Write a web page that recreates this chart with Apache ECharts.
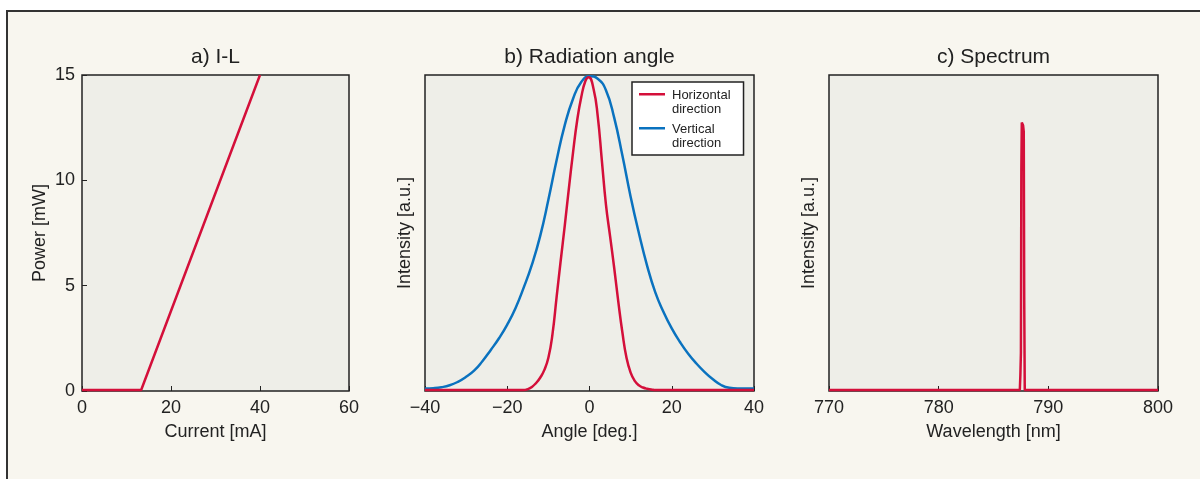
<!DOCTYPE html>
<html>
<head>
<meta charset="utf-8">
<script src="https://cdn.jsdelivr.net/npm/echarts@6/dist/echarts.min.js"></script>
<style>
html,body{margin:0;padding:0;background:#ffffff;}
#c{width:1200px;height:479px;}
</style>
</head>
<body>
<div id="c"></div>
<script>
// ---- data ----
const ilCurrent = [0, 13.3, 40];
const ilPower = [0.05, 0.05, 15];

const hAngle = [-40, -20, -16, -15, -14, -13, -12, -11, -10, -9, -8, -7, -6, -5, -4, -3, -2, -1, -0.2, 1, 2, 3, 4, 5, 6, 7, 8, 9, 10, 11, 12, 13, 14, 15, 16, 20, 40];
const hInt = [0.003, 0.003, 0.003, 0.006, 0.013, 0.025, 0.042, 0.066, 0.105, 0.18, 0.297, 0.413, 0.525, 0.643, 0.755, 0.856, 0.93, 0.981, 0.993, 0.955, 0.87, 0.73, 0.59, 0.49, 0.39, 0.283, 0.185, 0.105, 0.058, 0.032, 0.018, 0.011, 0.007, 0.005, 0.003, 0.003, 0.003];

const vAngle = [-40, -38, -36, -34, -32, -30, -28, -26, -24, -22, -20, -18, -16, -14, -12, -10, -8, -6, -4, -2, 0, 2, 4, 6, 8, 10, 12, 14, 16, 18, 20, 22, 24, 26, 28, 30, 32, 34, 36, 38, 40];
const vInt = [0.008, 0.009, 0.012, 0.018, 0.029, 0.045, 0.065, 0.095, 0.13, 0.167, 0.21, 0.262, 0.327, 0.4, 0.49, 0.605, 0.73, 0.842, 0.925, 0.978, 0.996, 0.988, 0.952, 0.865, 0.745, 0.615, 0.5, 0.397, 0.312, 0.25, 0.198, 0.155, 0.118, 0.087, 0.06, 0.037, 0.019, 0.01, 0.008, 0.008, 0.008];

const specWl = [770, 787.4, 787.45, 787.5, 787.54, 787.58, 787.62, 787.7, 787.76, 787.8, 787.85, 800];
const specInt = [0.003, 0.003, 0.05, 0.12, 0.7, 0.85, 0.85, 0.84, 0.82, 0.3, 0.003, 0.003];

const titles = ['a) I-L', 'b) Radiation angle', 'c) Spectrum'];
const xNames = ['Current [mA]', 'Angle [deg.]', 'Wavelength [nm]'];
const yNames = ['Power [mW]', 'Intensity [a.u.]', 'Intensity [a.u.]'];
const legendNames = ['Horizontal\ndirection', 'Vertical\ndirection'];

// ---- chart ----
const FONT = '"Liberation Sans", Arial, sans-serif';
const TXT = '#222222';
const RED = '#d40f3a';
const BLUE = '#0a72bf';
const zip = (a, b) => a.map((v, i) => [v, b[i]]);

const grids = [
  {left: 82, top: 75, width: 267, height: 316},
  {left: 425, top: 75, width: 329, height: 316},
  {left: 829, top: 75, width: 329, height: 316}
].map(g => Object.assign(g, {show: true, backgroundColor: '#eeeee8', borderColor: '#222', borderWidth: 1.5}));

const centers = [82 + 267 / 2, 425 + 329 / 2, 829 + 329 / 2];

const xRanges = [[0, 60, 20], [-40, 40, 20], [770, 800, 10]];
const xAxes = xRanges.map((r, i) => ({
  type: 'value', gridIndex: i, min: r[0], max: r[1], interval: r[2],
  name: xNames[i], nameLocation: 'middle', nameGap: 32,
  nameTextStyle: {fontFamily: FONT, fontSize: 18, color: TXT},
  axisLine: {show: false},
  axisTick: {show: true, inside: true, length: 5, lineStyle: {color: '#222', width: 1}},
  axisLabel: {fontFamily: FONT, fontSize: 18, color: TXT, margin: 8,
    formatter: v => String(v).replace('-', '\u2212')},
  splitLine: {show: false}
}));

const yAxes = [
  {type: 'value', gridIndex: 0, min: 0, max: 15, interval: 5,
   name: yNames[0], nameLocation: 'middle', nameGap: 33,
   axisLabel: {fontFamily: FONT, fontSize: 18, color: TXT, margin: 7},
   axisTick: {show: true, inside: true, length: 5, lineStyle: {color: '#222', width: 1}}},
  {type: 'value', gridIndex: 1, min: 0, max: 1, name: yNames[1], nameLocation: 'middle', nameGap: 11,
   axisLabel: {show: false}, axisTick: {show: false}},
  {type: 'value', gridIndex: 2, min: 0, max: 1, name: yNames[2], nameLocation: 'middle', nameGap: 11,
   axisLabel: {show: false}, axisTick: {show: false}}
].map(a => Object.assign(a, {
  nameTextStyle: {fontFamily: FONT, fontSize: 18, color: TXT},
  axisLine: {show: false}, splitLine: {show: false}
}));

const lineBase = {type: 'line', showSymbol: false, symbol: 'none', animation: false, silent: true};
const LEG_ICON = 'path://M0,4.5L26,4.5L26,7L0,7Z M0,0L0.01,0L0.01,28L0,28Z';

const option = {
  backgroundColor: '#ffffff',
  animation: false,
  graphic: [{
    type: 'rect', z: -10, silent: true,
    shape: {x: 7, y: 11, width: 1400, height: 700},
    style: {fill: '#f8f6ef', stroke: '#333', lineWidth: 2}
  }],
  title: titles.map((t, i) => ({
    text: t, left: centers[i], top: 47, textAlign: 'center', padding: 0,
    textStyle: {fontFamily: FONT, fontSize: 21, fontWeight: 'normal', color: TXT}
  })),
  legend: {
    data: legendNames.map(n => ({name: n, icon: LEG_ICON})),
    orient: 'vertical', left: 632, top: 82,
    backgroundColor: '#ffffff', borderColor: '#222', borderWidth: 1.5,
    padding: [5, 13, 3, 7], itemGap: 3, itemWidth: 26, itemHeight: 28,
    symbolKeepAspect: false,
    itemStyle: {borderWidth: 0},
    textStyle: {fontFamily: FONT, fontSize: 13, color: TXT, lineHeight: 14, padding: [3, 0, 0, 2]},
    selectedMode: false
  },
  grid: grids,
  xAxis: xAxes,
  yAxis: yAxes,
  series: [
    Object.assign({}, lineBase, {name: 'il', xAxisIndex: 0, yAxisIndex: 0, data: zip(ilCurrent, ilPower),
      lineStyle: {color: RED, width: 2.5}, itemStyle: {color: RED}}),
    Object.assign({}, lineBase, {name: legendNames[1], xAxisIndex: 1, yAxisIndex: 1, data: zip(vAngle, vInt),
      smooth: 0.5, lineStyle: {color: BLUE, width: 2.5}, itemStyle: {color: BLUE}}),
    Object.assign({}, lineBase, {name: legendNames[0], xAxisIndex: 1, yAxisIndex: 1, data: zip(hAngle, hInt),
      smooth: 0.5, lineStyle: {color: RED, width: 2.5}, itemStyle: {color: RED}}),
    Object.assign({}, lineBase, {name: 'spec', xAxisIndex: 2, yAxisIndex: 2, data: zip(specWl, specInt),
      lineStyle: {color: RED, width: 2.5}, itemStyle: {color: RED}})
  ]
};

const chart = echarts.init(document.getElementById('c'), null, {renderer: 'canvas'});
chart.setOption(option);
</script>
</body>
</html>
